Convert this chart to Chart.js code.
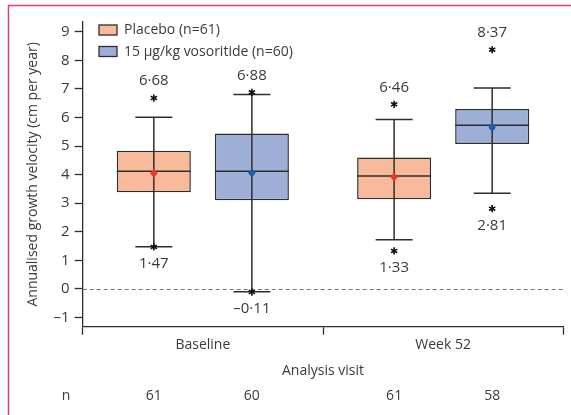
<!DOCTYPE html>
<html>
<head>
<meta charset="utf-8">
<script src="https://cdn.jsdelivr.net/npm/chart.js@4"></script>
<style>
  html, body { margin: 0; padding: 0; background: #fff; }
  #wrap { width: 571px; height: 415px; }
</style>
</head>
<body>
<div id="wrap"><canvas id="growthChart" width="571" height="415"></canvas></div>
<script>
// data
const categories = ['Baseline', 'Week 52'];
const seriesLabels = ['Placebo (n=61)', '15 μg/kg vosoritide (n=60)'];
const yTicks = [-1, 0, 1, 2, 3, 4, 5, 6, 7, 8, 9];

const placeboQ1 = [3.38, 3.14];
const placeboQ3 = [4.84, 4.60];
const placeboMedian = [4.12, 3.95];
const placeboMean = [4.05, 3.92];
const placeboWhiskerLow = [1.48, 1.72];
const placeboWhiskerHigh = [6.01, 5.93];
const placeboOutliers = [[1.47, 6.68], [1.33, 6.46]];
const placeboN = [61, 61];

const vosoQ1 = [3.10, 5.07];
const vosoQ3 = [5.44, 6.30];
const vosoMedian = [4.12, 5.73];
const vosoMean = [4.06, 5.65];
const vosoWhiskerLow = [-0.10, 3.35];
const vosoWhiskerHigh = [6.80, 7.03];
const vosoOutliers = [[-0.11, 6.88], [2.81, 8.37]];
const vosoN = [60, 58];

const textColor = '#3a3a3a';
const lineColor = '#2e2e2e';
const fontFamily = "'Open Sans', sans-serif";

const groups = [
  { q1: placeboQ1, q3: placeboQ3, median: placeboMedian, mean: placeboMean,
    low: placeboWhiskerLow, high: placeboWhiskerHigh, outliers: placeboOutliers, n: placeboN,
    fill: '#f9b99b', meanColor: '#e8392a' },
  { q1: vosoQ1, q3: vosoQ3, median: vosoMedian, mean: vosoMean,
    low: vosoWhiskerLow, high: vosoWhiskerHigh, outliers: vosoOutliers, n: vosoN,
    fill: '#9eafd7', meanColor: '#1b5ea8' }
];

function fmt(v) {
  // journal style: middle dot decimal, en dash minus
  const s = Math.abs(v).toFixed(2).replace('.', '·');
  return v < 0 ? '–' + s : s;
}

const boxExtras = {
  id: 'boxExtras',
  beforeDraw(chart) {
    const ctx = chart.ctx;
    ctx.save();
    ctx.fillStyle = '#fff';
    ctx.fillRect(0, 0, chart.width, chart.height);
    // pink frame top + left
    ctx.strokeStyle = '#d8436f';
    ctx.lineWidth = 1.5;
    ctx.beginPath();
    ctx.moveTo(8.5, chart.height);
    ctx.lineTo(8.5, 5.5);
    ctx.lineTo(chart.width, 5.5);
    ctx.stroke();
    ctx.restore();
  },
  beforeDatasetsDraw(chart) {
    const ctx = chart.ctx, area = chart.chartArea, y = chart.scales.y;
    const y0 = Math.round(y.getPixelForValue(0)) + 0.5;
    ctx.save();
    ctx.strokeStyle = '#5f7d8c';
    ctx.lineWidth = 1;
    ctx.setLineDash([4, 3]);
    ctx.beginPath();
    ctx.moveTo(area.left, y0);
    ctx.lineTo(area.right, y0);
    ctx.stroke();
    ctx.restore();
  },
  afterDatasetsDraw(chart) {
    const ctx = chart.ctx, y = chart.scales.y;
    ctx.save();
    groups.forEach((g, di) => {
      const meta = chart.getDatasetMeta(di);
      meta.data.forEach((bar, i) => {
        const cx = bar.x;
        const cap = bar.width / 4;
        ctx.strokeStyle = lineColor;
        ctx.lineWidth = 1.5;
        ctx.setLineDash([]);
        // whisker
        const yHi = y.getPixelForValue(g.high[i]);
        const yLo = y.getPixelForValue(g.low[i]);
        ctx.beginPath();
        ctx.moveTo(cx, yHi); ctx.lineTo(cx, yLo);
        ctx.moveTo(cx - cap, yHi); ctx.lineTo(cx + cap, yHi);
        ctx.moveTo(cx - cap, yLo); ctx.lineTo(cx + cap, yLo);
        // median
        const yMed = y.getPixelForValue(g.median[i]);
        ctx.moveTo(cx - bar.width / 2, yMed); ctx.lineTo(cx + bar.width / 2, yMed);
        ctx.stroke();
        // mean diamond
        const yMean = y.getPixelForValue(g.mean[i]);
        ctx.fillStyle = g.meanColor;
        ctx.beginPath();
        ctx.moveTo(cx, yMean - 4.5);
        ctx.lineTo(cx + 3.8, yMean);
        ctx.lineTo(cx, yMean + 4.5);
        ctx.lineTo(cx - 3.8, yMean);
        ctx.closePath();
        ctx.fill();
        // outliers
        g.outliers[i].forEach(v => {
          const py = y.getPixelForValue(v);
          ctx.strokeStyle = '#111';
          ctx.lineWidth = 1.6;
          ctx.beginPath();
          for (let k = 0; k < 3; k++) {
            const a = Math.PI / 2 + k * Math.PI / 3;
            ctx.moveTo(cx - 3.6 * Math.cos(a), py - 3.6 * Math.sin(a));
            ctx.lineTo(cx + 3.6 * Math.cos(a), py + 3.6 * Math.sin(a));
          }
          ctx.stroke();
          const above = v > g.high[i];
          ctx.fillStyle = textColor;
          ctx.font = '15px ' + fontFamily;
          ctx.textAlign = 'center';
          ctx.textBaseline = 'middle';
          ctx.fillText(fmt(v), cx, above ? py - 17 : py + 17);
        });
        // n row
        ctx.fillStyle = textColor;
        ctx.font = '14px ' + fontFamily;
        ctx.textAlign = 'center';
        ctx.textBaseline = 'middle';
        ctx.fillText(String(g.n[i]), cx, 396);
      });
    });
    ctx.fillText('n', 66, 396);

    // legend
    ctx.font = '14px ' + fontFamily;
    ctx.textAlign = 'left';
    groups.forEach((g, di) => {
      const top = 25 + di * 21.5;
      ctx.fillStyle = g.fill;
      ctx.fillRect(99, top, 18, 10);
      ctx.strokeStyle = lineColor;
      ctx.lineWidth = 1.3;
      ctx.strokeRect(99, top, 18, 10);
      ctx.fillStyle = textColor;
      ctx.fillText(seriesLabels[di], 124, top + 5.5);
    });
    ctx.restore();
  }
};

const ctx = document.getElementById('growthChart').getContext('2d');
const growthChart = new Chart(ctx, {
  type: 'bar',
  data: {
    labels: categories,
    datasets: groups.map((g, di) => ({
      label: seriesLabels[di],
      data: g.q1.map((q, i) => [q, g.q3[i]]),
      backgroundColor: g.fill,
      borderColor: lineColor,
      borderWidth: 1.5,
      borderSkipped: false,
      categoryPercentage: 0.816,
      barPercentage: 0.755
    }))
  },
  options: {
    responsive: false,
    animation: false,
    devicePixelRatio: 1,
    layout: { padding: { top: 22, right: 7.7, bottom: 30, left: 0 } },
    scales: {
      x: {
        offset: true,
        grid: { drawOnChartArea: false, offset: true, tickLength: 8, tickColor: lineColor, tickWidth: 1.3 },
        border: { color: lineColor, width: 1.3 },
        ticks: { color: textColor, font: { family: fontFamily, size: 14 }, padding: 2 },
        title: {
          display: true,
          text: 'Analysis visit',
          color: textColor,
          font: { family: fontFamily, size: 14 },
          padding: { top: 4, bottom: 6 }
        },
        afterFit(scale) { scale.height = 58.3; }
      },
      y: {
        min: -1.32,
        max: 9.34,
        afterBuildTicks(scale) { scale.ticks = yTicks.map(v => ({ value: v })); },
        afterFit(scale) { scale.width = 82.7; },
        grid: { drawOnChartArea: false, tickLength: 8, tickColor: lineColor, tickWidth: 1.3 },
        border: { color: lineColor, width: 1.3 },
        ticks: {
          color: textColor,
          font: { family: fontFamily, size: 15 },
          padding: 5,
          callback: v => (v < 0 ? '–' + Math.abs(v) : String(v))
        },
        title: {
          display: true,
          text: 'Annualised growth velocity (cm per year)',
          color: textColor,
          font: { family: fontFamily, size: 14 },
          padding: { top: 25, bottom: 0 }
        }
      }
    },
    plugins: {
      legend: { display: false },
      tooltip: { enabled: false }
    }
  },
  plugins: [boxExtras]
});
</script>
</body>
</html>
